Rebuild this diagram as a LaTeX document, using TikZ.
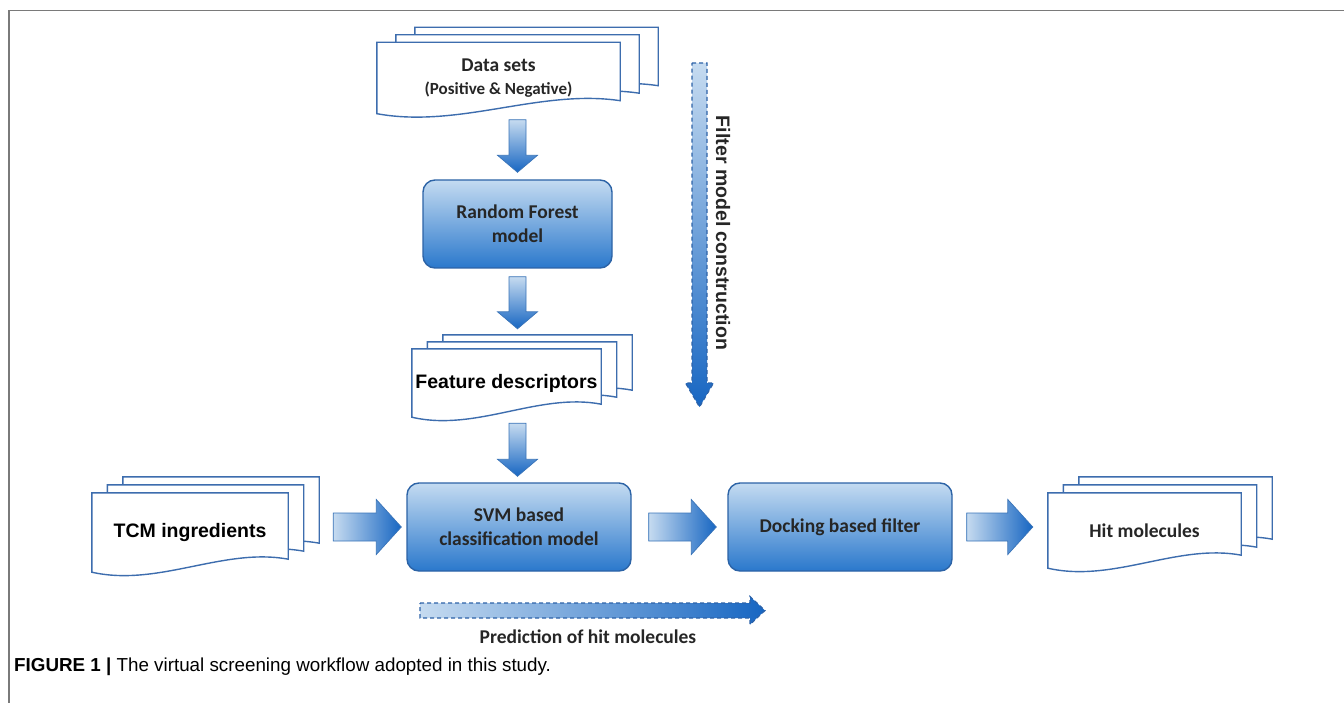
\documentclass[tikz,border=0pt]{standalone}
\usepackage{fontspec}
\newfontfamily\calfont{Carlito}
\newfontfamily\arialfont{Liberation Sans}
\usepackage{xcolor}
\usepackage{tikz}
\usetikzlibrary{calc, backgrounds, positioning}

\definecolor{boxtop}{HTML}{C4DBF1}
\definecolor{boxmid}{HTML}{79B5E4}
\definecolor{boxbot}{HTML}{2A78CC}
\definecolor{boxline}{HTML}{2C63A6}
\definecolor{docline}{HTML}{3D6DAE}
\definecolor{arrlight}{HTML}{C6DBF0}
\definecolor{arrdark}{HTML}{1766C2}
\definecolor{arrline}{HTML}{3A74B8}
\definecolor{dashline}{HTML}{2D62A8}
\definecolor{txtdark}{HTML}{262626}
\definecolor{framegray}{HTML}{7A7A7A}

% block arrows between two points (tail, tip)
\newcommand{\blkright}[2]{%
  \path[blockright] let \p1=(#1), \p2=(#2) in
    (\x1,\y1+14pt) -- (\x2-25pt,\y1+14pt) -- (\x2-25pt,\y1+27.5pt) -- (\x2,\y1)
    -- (\x2-25pt,\y1-27.5pt) -- (\x2-25pt,\y1-14pt) -- (\x1,\y1-14pt) -- cycle;}
\newcommand{\blkdown}[2]{%
  \path[blockdown] let \p1=(#1), \p2=(#2) in
    (\x1-8.5pt,\y1) -- (\x1+8.5pt,\y1) -- (\x1+8.5pt,\y2+17pt) -- (\x1+20pt,\y2+17pt)
    -- (\x1,\y2) -- (\x1-20pt,\y2+17pt) -- (\x1-8.5pt,\y2+17pt) -- cycle;}

\begin{document}
\begin{tikzpicture}[x=1pt, y=-1pt,
  docnode/.style={inner sep=0pt, align=center},
  docpage/.style={draw=docline, fill=white, line width=1.4pt},
  model/.style={rounded corners=12pt, draw=boxline, line width=1.4pt,
    top color=boxtop, middle color=boxmid, bottom color=boxbot,
    minimum width=224pt, minimum height=88pt, align=center,
    font=\calfont\bfseries\fontsize{19.5}{24}\selectfont, text=txtdark},
  blockright/.style={draw=arrline, line width=0.7pt,
    left color=arrlight, right color=arrdark},
  blockdown/.style={draw=arrline, line width=0.7pt,
    top color=arrlight, bottom color=arrdark},
  dashright/.style={draw=dashline, dash pattern=on 4pt off 3pt, line width=1.2pt,
    left color=arrlight, right color=arrdark},
  dashdown/.style={draw=dashline, dash pattern=on 4pt off 3pt, line width=1.2pt,
    top color=arrlight, bottom color=arrdark},
  calbold/.style={font=\calfont\bfseries\fontsize{19.5}{24}\selectfont, text=txtdark},
  arialbold/.style={font=\arialfont\bfseries\fontsize{19.5}{24}\selectfont, text=black}
]
\useasboundingbox (0,0) rectangle (1344,703);
\draw[framegray, line width=1.5pt] (9,703) -- (9,10.5) -- (1344,10.5);

% documents
\node[docnode, calbold, minimum width=243pt, minimum height=71pt] (ds) at (498.5,78)
  {Data sets\\[-1pt]\fontsize{17}{20}\selectfont (Positive \& Negative)};
\node[docnode, arialbold, minimum width=189pt, minimum height=68pt] (fd) at (506.5,383)
  {Feature descriptors};
\node[docnode, arialbold, minimum width=196pt, minimum height=79pt] (tcm) at (190,532.5)
  {TCM ingredients};
\node[docnode, calbold, minimum width=193pt, minimum height=75pt] (hit) at (1144.5,530.5)
  {Hit molecules};

% models
\node[model, minimum width=189pt] (rf) at (517.5,224) {Random Forest\\model};
\node[model] (svm) at (519,527) {SVM based\\classification model};
\node[model] (dock) at (840,527) {Docking based filter};

\begin{scope}[on background layer]
\foreach \n/\dx/\dy in {ds/19/7.5, fd/15.5/7, tcm/15.5/8, hit/15.5/8}{
  \foreach \k in {2,1,0}{
    \draw[docpage] ($(\n.north west)+({\k*\dx},{-\k*\dy})$)
      -- ($(\n.north east)+({\k*\dx},{-\k*\dy})$)
      -- ($(\n.south east)+({\k*\dx},{-\k*\dy-13})$)
      .. controls ($(\n.south east)!0.33!(\n.south west)+({\k*\dx},{-\k*\dy-25})$)
      and ($(\n.south east)!0.66!(\n.south west)+({\k*\dx},{-\k*\dy+15})$)
      .. ($(\n.south west)+({\k*\dx},{-\k*\dy})$) -- cycle;
  }
}
\end{scope}

% flow arrows
\blkdown{$(rf.north |- ds.south)+(0,6)$}{$(rf.north)+(0,-7)$}
\blkdown{$(rf.south)+(0,8)$}{$(rf.south |- fd.north)+(0,-20)$}
\blkdown{$(rf.south |- fd.south)+(0,6)$}{$(rf.south |- svm.north)+(0,-6)$}
\blkright{$(tcm.east |- svm.west)+(45,0)$}{$(svm.west)+(-5,0)$}
\blkright{$(svm.east)+(17,0)$}{$(dock.west)+(-11,0)$}
\blkright{$(dock.east)+(14,0)$}{$(hit.west |- dock.west)+(-15,0)$}

% stage arrows
\coordinate (filtop) at (699.5,63);
\coordinate (filtip) at (699.5,407);
\path[dashdown] let \p1=(filtop), \p2=(filtip) in
  (\x1-7.5pt,\y1) -- (\x1+7.5pt,\y1) -- (\x1+7.5pt,\y2+24pt) -- (\x1+14pt,\y2+24pt)
  -- (\x1,\y2) -- (\x1-14pt,\y2+24pt) -- (\x1-7.5pt,\y2+24pt) -- cycle;
\node[arialbold, text=txtdark, rotate=-90] (fillbl) at (723,233) {Filter model construction};

\coordinate (predtail) at (420,610.5);
\coordinate (predtip) at (765,610.5);
\path[dashright] let \p1=(predtail), \p2=(predtip) in
  (\x1,\y1+7.5pt) -- (\x2-15pt,\y1+7.5pt) -- (\x2-15pt,\y1+14pt) -- (\x2,\y1)
  -- (\x2-15pt,\y1-14pt) -- (\x2-15pt,\y1-7.5pt) -- (\x1,\y1-7.5pt) -- cycle;
\node[calbold] (predlbl) at (588,637) {Prediction of hit molecules};

% caption
\node[anchor=west, inner sep=0pt, font=\arialfont\fontsize{18.8}{22}\selectfont] (caption)
  at (14,667) {\textbf{FIGURE 1 |} The virtual screening workflow adopted in this study.};
\end{tikzpicture}
\end{document}
